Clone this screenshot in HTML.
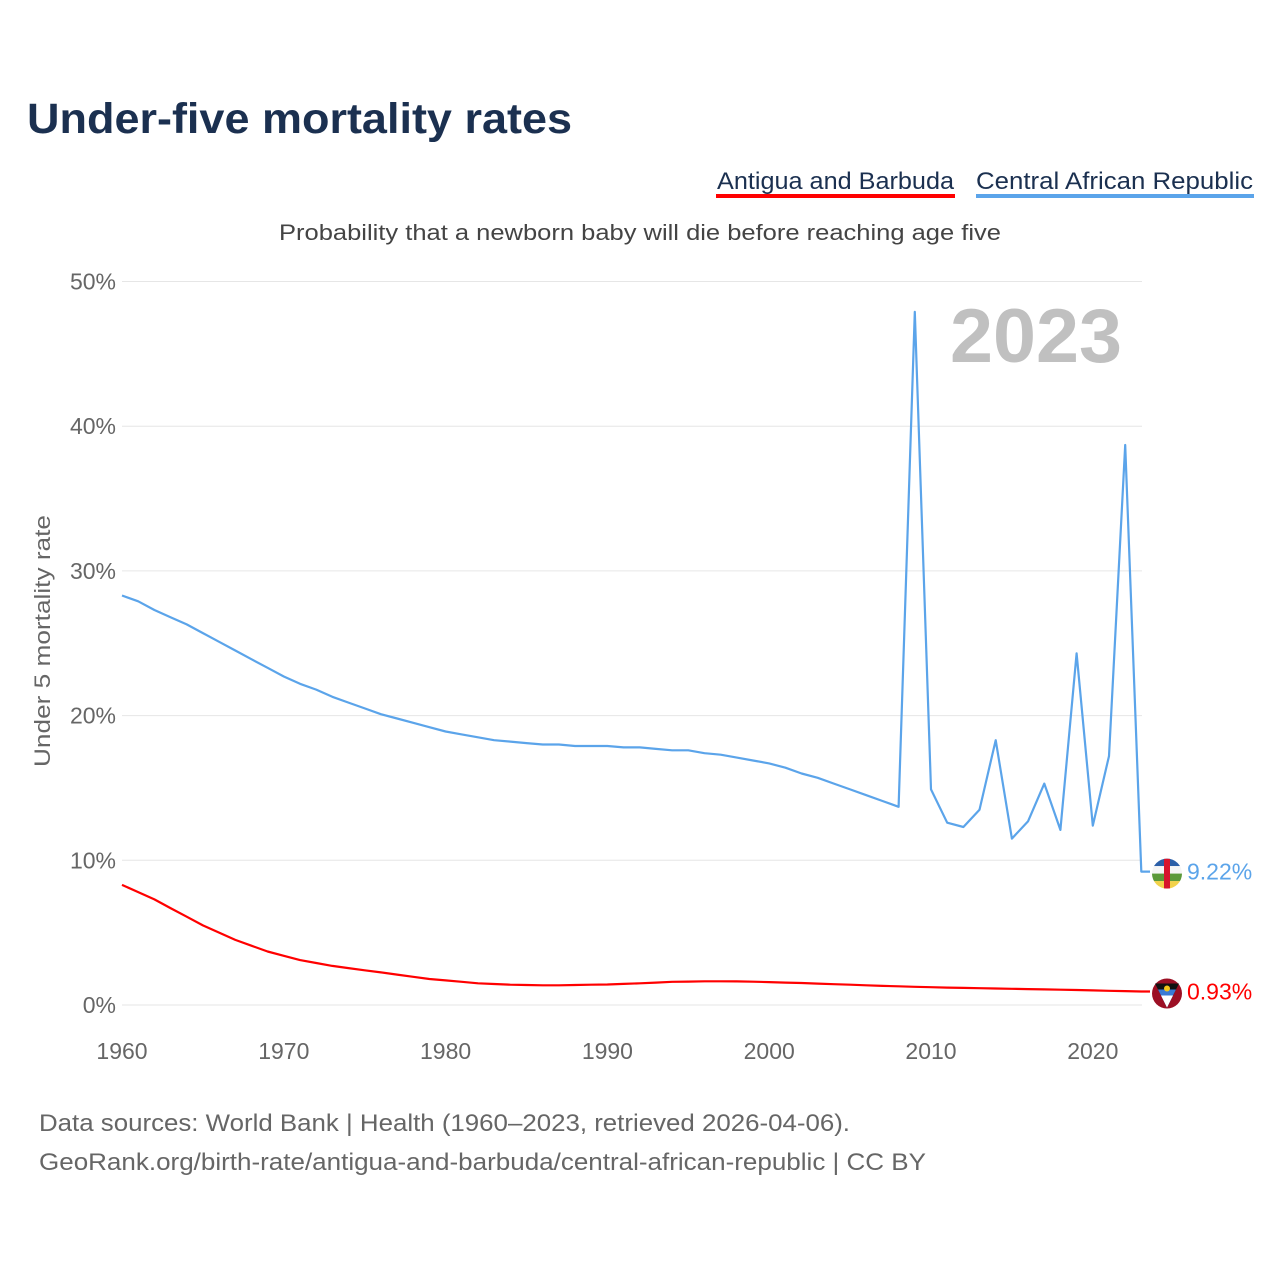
<!DOCTYPE html>
<html><head><meta charset="utf-8">
<style>
body{margin:0;background:#fff;width:1280px;height:1280px;overflow:hidden;font-family:"Liberation Sans",sans-serif;}
svg text{font-family:"Liberation Sans",sans-serif;}
</style></head>
<body>
<svg id="chart" width="1280" height="1280" viewBox="0 0 1280 1280">
<text x="27" y="133" font-size="43" font-weight="bold" fill="#1b3050" textLength="545" lengthAdjust="spacingAndGlyphs">Under-five mortality rates</text>
<g>
<text x="717" y="189" font-size="24" fill="#1b3050" textLength="237" lengthAdjust="spacingAndGlyphs">Antigua and Barbuda</text>
<rect x="716" y="194" width="239" height="4" fill="#ff0000"/>
</g>
<g>
<text x="976" y="189" font-size="24" fill="#1b3050" textLength="277" lengthAdjust="spacingAndGlyphs">Central African Republic</text>
<rect x="976" y="194" width="278" height="4" fill="#5ba4ea"/>
</g>
<text x="640" y="240" font-size="22" fill="#444" text-anchor="middle" textLength="722" lengthAdjust="spacingAndGlyphs">Probability that a newborn baby will die before reaching age five</text>
<text transform="translate(50,641) rotate(-90)" font-size="22" fill="#666" text-anchor="middle" textLength="252" lengthAdjust="spacingAndGlyphs">Under 5 mortality rate</text>
<g id="grid"></g>
<g id="xticks"></g>
<text x="1122" y="362" font-size="76" font-weight="bold" fill="#c0c0c0" text-anchor="end" textLength="172" lengthAdjust="spacingAndGlyphs">2023</text>
<g id="series"></g>
<text x="39" y="1131" font-size="24" fill="#666" textLength="811" lengthAdjust="spacingAndGlyphs">Data sources: World Bank | Health (1960–2023, retrieved 2026-04-06).</text>
<text x="39" y="1170" font-size="24" fill="#666" textLength="887" lengthAdjust="spacingAndGlyphs">GeoRank.org/birth-rate/antigua-and-barbuda/central-african-republic | CC BY</text>
</svg>
<script>
const years = [];
for (let y = 1960; y <= 2023; y++) years.push(y);
const carValues = [28.3,27.9,27.3,26.8,26.3,25.7,25.1,24.5,23.9,23.3,22.7,22.2,21.8,21.3,20.9,20.5,20.1,19.8,19.5,19.2,18.9,18.7,18.5,18.3,18.2,18.1,18.0,18.0,17.9,17.9,17.9,17.8,17.8,17.7,17.6,17.6,17.4,17.3,17.1,16.9,16.7,16.4,16.0,15.7,15.3,14.9,14.5,14.1,13.7,47.9,14.9,12.6,12.3,13.5,18.3,11.5,12.7,15.3,12.1,24.3,12.4,17.2,38.7,9.22];
const antiguaValues = [8.3,7.8,7.3,6.7,6.1,5.5,5.0,4.5,4.1,3.7,3.4,3.1,2.9,2.7,2.55,2.4,2.25,2.1,1.95,1.8,1.7,1.6,1.5,1.45,1.4,1.38,1.36,1.36,1.38,1.4,1.42,1.46,1.5,1.55,1.6,1.62,1.64,1.64,1.63,1.61,1.58,1.55,1.52,1.48,1.44,1.4,1.36,1.32,1.29,1.26,1.23,1.2,1.18,1.16,1.14,1.12,1.1,1.08,1.06,1.04,1.01,0.98,0.96,0.93];
const yTicks = [0,10,20,30,40,50];
const xTicks = [1960,1970,1980,1990,2000,2010,2020];
const NS = "http://www.w3.org/2000/svg";
const X = y => 122 + (y - 1960) * 16.18;
const Y = v => 1005 - v * 14.47;
function mk(tag, attrs, parent){const e=document.createElementNS(NS,tag);for(const k in attrs)e.setAttribute(k,attrs[k]);parent.appendChild(e);return e;}
const grid = document.getElementById('grid');
yTicks.forEach(t=>{
  const l = mk('line',{x1:122,x2:1142,y1:Y(t),y2:Y(t),stroke:'#e6e6e6','stroke-width':1},grid);
  
  
  const tx = mk('text',{x:116,y:Y(t)+8,'font-size':23,fill:'#666','text-anchor':'end'},grid);
  tx.textContent = t + '%';
  
  
});
const xt = document.getElementById('xticks');
xTicks.forEach(t=>{
  const tx = mk('text',{x:X(t),y:1059,'font-size':23,fill:'#666','text-anchor':'middle'},xt);
  tx.textContent = t;
  
  
});
const s = document.getElementById('series');
function line(vals,color,name){
  let d = vals.map((v,i)=>(i?'L':'M')+X(years[i]).toFixed(1)+' '+Y(v).toFixed(1)).join(' ');
  d += ' L1150 '+Y(vals[vals.length-1]).toFixed(1);
  const p = mk('path',{d:d,fill:'none',stroke:color,'stroke-width':2.2,'stroke-linejoin':'round'},s);
  
  
}
line(carValues,'#5ba4ea','car-line');
line(antiguaValues,'#ff0000','antigua-line');
const cy1 = Y(carValues[carValues.length-1]), cy2 = Y(antiguaValues[antiguaValues.length-1]);
const f1 = mk('g',{},s);


const cp = mk('clipPath',{id:'c1'},f1);
mk('circle',{cx:1167,cy:cy1+2,r:15},cp);
const g1 = mk('g',{'clip-path':'url(#c1)'},f1);
[['#2b5fa8',0],['#f5f5f5',1],['#5c9a3a',2],['#f2d24a',3]].forEach(([c,i])=>mk('rect',{x:1152,y:cy1-13+i*7.5,width:30,height:7.6,fill:c},g1));
mk('rect',{x:1164,y:cy1-13,width:6,height:30,fill:'#d7142c'},g1);
const t1 = mk('text',{x:1187,y:cy1+8,'font-size':23,fill:'#5ba4ea'},s);
t1.textContent = carValues[carValues.length-1].toFixed(2)+'%';


const f2 = mk('g',{},s);


mk('circle',{cx:1167,cy:cy2+2,r:15,fill:'#9c0f24'},f2);
mk('path',{d:`M1155 ${cy2-8} L1179 ${cy2-8} L1167 ${cy2+16} Z`,fill:'#111'},f2);
mk('path',{d:`M1158 ${cy2-2} L1176 ${cy2-2} L1167 ${cy2+16} Z`,fill:'#3a7bd5'},f2);
mk('path',{d:`M1161 ${cy2+4} L1173 ${cy2+4} L1167 ${cy2+16} Z`,fill:'#fff'},f2);
mk('circle',{cx:1167,cy:cy2-3,r:3,fill:'#f5c518'},f2);
const t2 = mk('text',{x:1187,y:cy2+8,'font-size':23,fill:'#ff0000'},s);
t2.textContent = antiguaValues[antiguaValues.length-1].toFixed(2)+'%';


</script>
</body></html>
